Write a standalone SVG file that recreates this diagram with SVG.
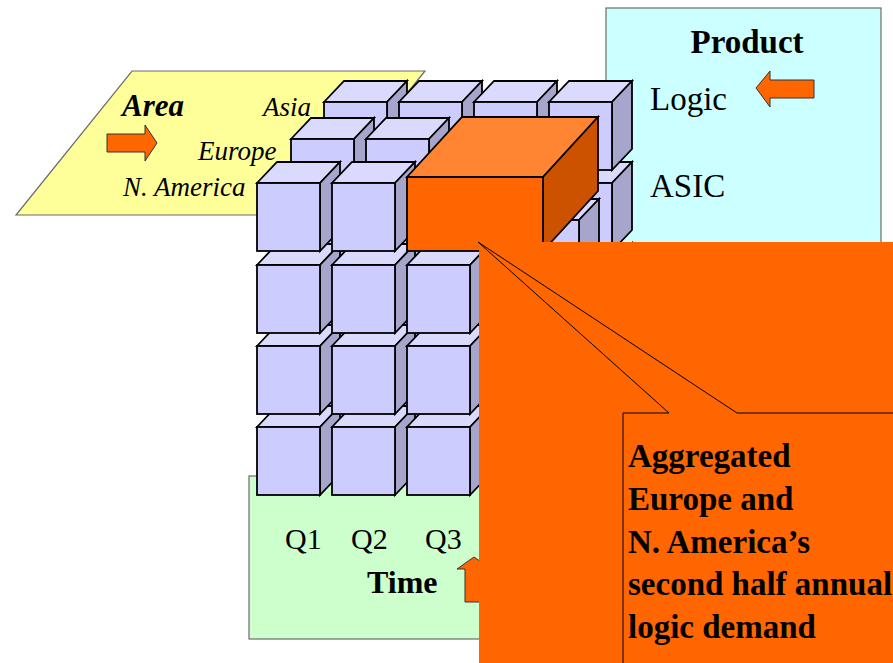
<svg xmlns="http://www.w3.org/2000/svg" xmlns:xlink="http://www.w3.org/1999/xlink" width="893" height="663" viewBox="0 0 893 663">
  <style>
    .panel { stroke: #6b6b6b; stroke-width: 1.2; }
    .serif { font-family: "Liberation Serif", "Times New Roman", serif; fill: #000; }
    .dim { font-size: 33px; }
    .italic { font-style: italic; font-size: 27px; }
    .arrow { fill: #FF6600; stroke: #333; stroke-width: 1; }
    .c-front { fill: #CCCCFF; }
    .c-top { fill: #DADAFF; }
    .c-side { fill: #A6A6CC; }
    .edge { stroke: #000; stroke-width: 1.8; stroke-linejoin: miter; }
    .callout-line { fill: none; stroke: #000; stroke-width: 1; }
    .callout-text { font-size: 33px; font-weight: bold; }
  </style>
  <defs>
    <!-- unit cube: front face origin at top-left -->
    <g id="cube" class="edge">
      <polygon class="c-top" points="0,0 20,-21 83,-21 63,0"/>
      <polygon class="c-side" points="63,0 83,-21 83,47 63,68"/>
      <rect class="c-front" x="0" y="0" width="63" height="68"/>
    </g>
  </defs>

  <rect width="893" height="663" fill="#fff"/>

  <!-- Product dimension -->
  <g id="product-panel">
    <rect class="panel" x="606" y="8" width="275" height="260" fill="#CCFFFF"/>
    <text class="serif dim" x="747" y="53" text-anchor="middle" font-weight="bold">Product</text>
    <text class="serif dim" x="650" y="110">Logic</text>
    <text class="serif dim" x="650" y="197">ASIC</text>
    <polygon class="arrow" points="756,88 770,71 770,80 814,80 814,98 770,98 770,107"/>
  </g>

  <!-- Area dimension -->
  <g id="area-panel">
    <polygon class="panel" points="132,71 425,71 309,215 16,215" fill="#FFFF99"/>
    <text class="serif" x="122" y="116" font-size="31" font-weight="bold" font-style="italic">Area</text>
    <text class="serif italic" x="263" y="116">Asia</text>
    <text class="serif italic" x="198" y="160">Europe</text>
    <text class="serif italic" x="123" y="196">N. America</text>
    <polygon class="arrow" points="107,134 145,134 145,125 157,143 145,161 145,152 107,152"/>
  </g>

  <!-- Time dimension -->
  <g id="time-panel">
    <rect class="panel" x="249" y="476" width="300" height="163" fill="#CCFFCC"/>
    <text class="serif" x="285" y="549" font-size="30">Q1</text>
    <text class="serif" x="351" y="549" font-size="30">Q2</text>
    <text class="serif" x="425" y="549" font-size="30">Q3</text>
    <text class="serif" x="367" y="593" font-size="32" font-weight="bold">Time</text>
    <polygon class="arrow" points="474,557 491,569 483,569 483,602 465,602 465,569 457,569"/>
  </g>

  <!-- data cube: back layer (Asia) -->
  <g id="cube-back">
    <use xlink:href="#cube" x="324" y="345"/><use xlink:href="#cube" x="399" y="345"/><use xlink:href="#cube" x="474" y="345"/><use xlink:href="#cube" x="549" y="345"/>
    <use xlink:href="#cube" x="324" y="264"/><use xlink:href="#cube" x="399" y="264"/><use xlink:href="#cube" x="474" y="264"/><use xlink:href="#cube" x="549" y="264"/>
    <use xlink:href="#cube" x="324" y="183"/><use xlink:href="#cube" x="399" y="183"/><use xlink:href="#cube" x="474" y="183"/><use xlink:href="#cube" x="549" y="183"/>
    <use xlink:href="#cube" x="324" y="102"/><use xlink:href="#cube" x="399" y="102"/><use xlink:href="#cube" x="474" y="102"/><use xlink:href="#cube" x="549" y="102"/>
  </g>

  <!-- data cube: middle layer (Europe) -->
  <g id="cube-middle">
    <use xlink:href="#cube" x="291" y="382"/><use xlink:href="#cube" x="366" y="382"/><use xlink:href="#cube" x="441" y="382"/><use xlink:href="#cube" x="516" y="382"/>
    <use xlink:href="#cube" x="291" y="301"/><use xlink:href="#cube" x="366" y="301"/><use xlink:href="#cube" x="441" y="301"/><use xlink:href="#cube" x="516" y="301"/>
    <use xlink:href="#cube" x="291" y="220"/><use xlink:href="#cube" x="366" y="220"/><use xlink:href="#cube" x="441" y="220"/><use xlink:href="#cube" x="516" y="220"/>
    <use xlink:href="#cube" x="291" y="139"/><use xlink:href="#cube" x="366" y="139"/>
  </g>

  <!-- data cube: front layer (N. America) -->
  <g id="cube-front">
    <use xlink:href="#cube" x="257" y="427"/><use xlink:href="#cube" x="332" y="427"/><use xlink:href="#cube" x="407" y="427"/><use xlink:href="#cube" x="482" y="427"/>
    <use xlink:href="#cube" x="257" y="346"/><use xlink:href="#cube" x="332" y="346"/><use xlink:href="#cube" x="407" y="346"/><use xlink:href="#cube" x="482" y="346"/>
    <use xlink:href="#cube" x="257" y="265"/><use xlink:href="#cube" x="332" y="265"/><use xlink:href="#cube" x="407" y="265"/><use xlink:href="#cube" x="482" y="265"/>
    <use xlink:href="#cube" x="257" y="183"/><use xlink:href="#cube" x="332" y="183"/>
  </g>

  <!-- aggregated block: Europe + N. America, Q3-Q4, Logic -->
  <g id="aggregate-box" class="edge">
    <polygon fill="#FF8533" points="407,177 462,117 598,117 543,177"/>
    <polygon fill="#CC5200" points="543,177 598,117 598,191 543,251"/>
    <rect fill="#FF6600" x="407" y="177" width="136" height="74"/>
  </g>

  <!-- callout -->
  <g id="callout">
    <rect x="479" y="242" width="414" height="421" fill="#FF6600"/>
    <path class="callout-line" d="M623,663 V413 H669 M737,413 H893"/>
    <text class="serif callout-text" x="628" y="467">Aggregated</text>
    <text class="serif callout-text" x="628" y="510">Europe and</text>
    <text class="serif callout-text" x="628" y="553">N. America’s</text>
    <text class="serif callout-text" x="628" y="595">second half annual</text>
    <text class="serif callout-text" x="628" y="638">logic demand</text>
  </g>

  <g id="connectors">
    <path class="callout-line" d="M669,413 L478,242 L737,413"/>
  </g>
</svg>
